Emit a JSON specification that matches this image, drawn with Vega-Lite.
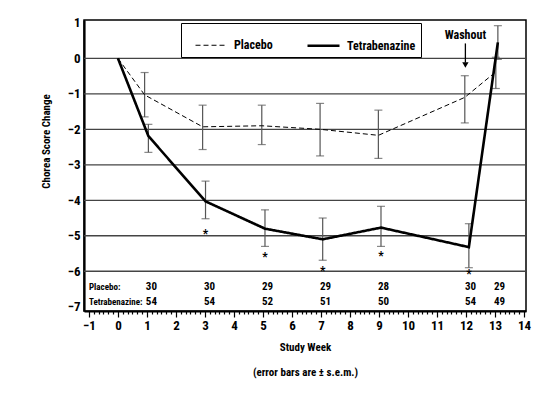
{
  "$schema": "https://vega.github.io/schema/vega-lite/v6.json",
  "width": 442,
  "height": 291,
  "autosize": {"type": "none"},
  "padding": {"left": 84, "top": 20, "right": 18, "bottom": 82},
  "background": "white",
  "config": {
    "font": "Roboto Condensed, Arial Narrow, Liberation Sans Narrow, Roboto, sans-serif",
    "view": {"stroke": "black", "strokeWidth": 1.5},
    "axis": {"labelFontWeight": "bold", "titleFontWeight": "bold", "labelColor": "black", "titleColor": "black", "domainColor": "black", "tickColor": "black"}
  },
  "datasets": {
    "grid": [{"value": 0}, {"value": -1}, {"value": -2}, {"value": -3}, {"value": -4}, {"value": -5}, {"value": -6}],
    "series": [
      {"group": "Placebo", "week": 0, "value": 0, "lo": null, "hi": null},
      {"group": "Placebo", "week": 0.92, "value": -1.03, "lo": -1.65, "hi": -0.40},
      {"group": "Placebo", "week": 2.92, "value": -1.93, "lo": -2.57, "hi": -1.32},
      {"group": "Placebo", "week": 4.96, "value": -1.90, "lo": -2.43, "hi": -1.32},
      {"group": "Placebo", "week": 6.97, "value": -2.00, "lo": -2.75, "hi": -1.27},
      {"group": "Placebo", "week": 8.98, "value": -2.17, "lo": -2.82, "hi": -1.46},
      {"group": "Placebo", "week": 11.96, "value": -1.10, "lo": -1.82, "hi": -0.49},
      {"group": "Placebo", "week": 13.03, "value": -0.38, "lo": -0.85, "hi": 0.03},
      {"group": "Tetrabenazine", "week": 0, "value": 0, "lo": null, "hi": null},
      {"group": "Tetrabenazine", "week": 1.05, "value": -2.19, "lo": -2.65, "hi": -1.86},
      {"group": "Tetrabenazine", "week": 3.02, "value": -4.03, "lo": -4.52, "hi": -3.46},
      {"group": "Tetrabenazine", "week": 5.07, "value": -4.80, "lo": -5.30, "hi": -4.27},
      {"group": "Tetrabenazine", "week": 7.06, "value": -5.10, "lo": -5.69, "hi": -4.50},
      {"group": "Tetrabenazine", "week": 9.07, "value": -4.77, "lo": -5.30, "hi": -4.17},
      {"group": "Tetrabenazine", "week": 12.1, "value": -5.32, "lo": -5.90, "hi": -4.66},
      {"group": "Tetrabenazine", "week": 13.1, "value": 0.45, "lo": -0.03, "hi": 0.92}
    ],
    "stars": [
      {"week": 3.02, "value": -4.88},
      {"week": 5.07, "value": -5.53},
      {"week": 7.06, "value": -5.95},
      {"week": 9.07, "value": -5.50},
      {"week": 12.1, "value": -6.02}
    ],
    "counts": [
      {"week": 1, "row": "Placebo", "value": -6.45, "n": "30"},
      {"week": 3, "row": "Placebo", "value": -6.45, "n": "30"},
      {"week": 5, "row": "Placebo", "value": -6.45, "n": "29"},
      {"week": 7, "row": "Placebo", "value": -6.45, "n": "29"},
      {"week": 9, "row": "Placebo", "value": -6.45, "n": "28"},
      {"week": 12, "row": "Placebo", "value": -6.45, "n": "30"},
      {"week": 13, "row": "Placebo", "value": -6.45, "n": "29"},
      {"week": 1, "row": "Tetrabenazine", "value": -6.86, "n": "54"},
      {"week": 3, "row": "Tetrabenazine", "value": -6.86, "n": "54"},
      {"week": 5, "row": "Tetrabenazine", "value": -6.86, "n": "52"},
      {"week": 7, "row": "Tetrabenazine", "value": -6.86, "n": "51"},
      {"week": 9, "row": "Tetrabenazine", "value": -6.86, "n": "50"},
      {"week": 12, "row": "Tetrabenazine", "value": -6.86, "n": "54"},
      {"week": 13, "row": "Tetrabenazine", "value": -6.86, "n": "49"}
    ],
    "rowlabels": [
      {"week": -1.0, "value": -6.45, "label": "Placebo:"},
      {"week": -1.0, "value": -6.86, "label": "Tetrabenazine:"}
    ],
    "washout": [{"week": 11.98, "value": 0.66, "top": 0.42, "bottom": -0.12, "head": -0.19, "label": "Washout"}]
  },
  "layer": [
    {
      "data": {"name": "grid"},
      "mark": {"type": "rule", "color": "#444444", "strokeWidth": 1.3},
      "encoding": {
        "y": {
          "field": "value", "type": "quantitative",
          "scale": {"domain": [-7.12, 1.08], "nice": false, "zero": false},
          "axis": {
            "values": [-7, -6, -5, -4, -3, -2, -1, 0, 1], "tickCount": 50, "format": "d",
            "grid": false, "ticks": false, "domainWidth": 2.2,
            "labelFontSize": 13, "labelPadding": 4,
            "title": "Chorea Score Change", "titleFontSize": 11,
            "titleX": -38, "titleY": 121, "titleAlign": "center", "titleBaseline": "middle", "titleAngle": -90
          }
        }
      }
    },
    {
      "data": {"name": "series"},
      "transform": [{"filter": "isValid(datum.lo)"}],
      "mark": {"type": "rule", "color": "#555555", "strokeWidth": 1.2},
      "encoding": {
        "x": {
          "field": "week", "type": "quantitative",
          "scale": {"domain": [-1.17, 14.07], "nice": false, "zero": false},
          "axis": {
            "values": [-1, -0.8333, -0.6667, -0.5, -0.3333, -0.1667, 0, 0.1667, 0.3333, 0.5, 0.6667, 0.8333, 1, 1.1667, 1.3333, 1.5, 1.6667, 1.8333, 2, 2.1667, 2.3333, 2.5, 2.6667, 2.8333, 3, 3.1667, 3.3333, 3.5, 3.6667, 3.8333, 4, 4.1667, 4.3333, 4.5, 4.6667, 4.8333, 5, 5.1667, 5.3333, 5.5, 5.6667, 5.8333, 6, 6.1667, 6.3333, 6.5, 6.6667, 6.8333, 7, 7.1667, 7.3333, 7.5, 7.6667, 7.8333, 8, 8.1667, 8.3333, 8.5, 8.6667, 8.8333, 9, 9.1667, 9.3333, 9.5, 9.6667, 9.8333, 10, 10.1667, 10.3333, 10.5, 10.6667, 10.8333, 11, 11.1667, 11.3333, 11.5, 11.6667, 11.8333, 12, 12.1667, 12.3333, 12.5, 12.6667, 12.8333, 13, 13.1667, 13.3333, 13.5, 13.6667, 13.8333, 14],
            "tickCount": 500,
            "labelExpr": "abs(datum.value - round(datum.value)) < 0.01 ? format(datum.value, 'd') : ''",
            "labelOverlap": false, "labelBound": false, "labelFlush": false,
            "tickSize": {"condition": {"test": "abs(datum.value - round(datum.value)) < 0.01", "value": 6}, "value": 3},
            "tickWidth": 1.2, "domainWidth": 2.2, "grid": false,
            "labelFontSize": 13, "labelPadding": 2,
            "title": ["Study Week", "(error bars are ± s.e.m.)"],
            "titleFontSize": 11, "titleLineHeight": 25, "titleY": 30, "titleBaseline": "top"
          }
        },
        "y": {"field": "lo", "type": "quantitative"},
        "y2": {"field": "hi"}
      }
    },
    {
      "data": {"name": "series"},
      "transform": [{"filter": "isValid(datum.lo)"}],
      "mark": {"type": "tick", "orient": "horizontal", "color": "#555555", "size": 8, "thickness": 1.2},
      "encoding": {
        "x": {"field": "week", "type": "quantitative"},
        "y": {"field": "lo", "type": "quantitative"}
      }
    },
    {
      "data": {"name": "series"},
      "transform": [{"filter": "isValid(datum.hi)"}],
      "mark": {"type": "tick", "orient": "horizontal", "color": "#555555", "size": 8, "thickness": 1.2},
      "encoding": {
        "x": {"field": "week", "type": "quantitative"},
        "y": {"field": "hi", "type": "quantitative"}
      }
    },
    {
      "data": {"name": "series"},
      "mark": {"type": "line", "color": "black"},
      "encoding": {
        "x": {"field": "week", "type": "quantitative"},
        "y": {"field": "value", "type": "quantitative"},
        "order": {"field": "week"},
        "strokeDash": {
          "field": "group", "type": "nominal",
          "scale": {"domain": ["Placebo", "Tetrabenazine"], "range": [[5, 3], [1, 0]]},
          "legend": {
            "title": null, "orient": "none", "legendX": 97, "legendY": 3, "direction": "horizontal",
            "strokeColor": "black", "padding": 5, "symbolType": "stroke", "symbolSize": 1024,
            "symbolStrokeColor": "black", "symbolOffset": 9, "labelFontSize": 12, "labelFontWeight": "bold",
            "labelColor": "black", "labelOffset": 6, "columnPadding": 24
          }
        },
        "strokeWidth": {
          "field": "group", "type": "nominal",
          "scale": {"domain": ["Placebo", "Tetrabenazine"], "range": [1, 2.6]}
        }
      }
    },
    {
      "data": {"name": "stars"},
      "mark": {"type": "text", "text": "*", "fontSize": 12, "fontWeight": "bold", "baseline": "middle", "dy": 2, "color": "black"},
      "encoding": {
        "x": {"field": "week", "type": "quantitative"},
        "y": {"field": "value", "type": "quantitative"}
      }
    },
    {
      "data": {"name": "counts"},
      "mark": {"type": "text", "fontSize": 11, "fontWeight": "bold", "baseline": "middle", "align": "center", "dx": 4.5, "color": "black"},
      "encoding": {
        "x": {"field": "week", "type": "quantitative"},
        "y": {"field": "value", "type": "quantitative"},
        "text": {"field": "n"}
      }
    },
    {
      "data": {"name": "rowlabels"},
      "mark": {"type": "text", "fontSize": 9, "fontWeight": "bold", "baseline": "middle", "align": "left", "color": "black"},
      "encoding": {
        "x": {"field": "week", "type": "quantitative"},
        "y": {"field": "value", "type": "quantitative"},
        "text": {"field": "label"}
      }
    },
    {
      "data": {"name": "washout"},
      "mark": {"type": "text", "fontSize": 12, "fontWeight": "bold", "baseline": "middle", "align": "center", "color": "black"},
      "encoding": {
        "x": {"field": "week", "type": "quantitative"},
        "y": {"field": "value", "type": "quantitative"},
        "text": {"field": "label"}
      }
    },
    {
      "data": {"name": "washout"},
      "mark": {"type": "rule", "color": "black", "strokeWidth": 1.3},
      "encoding": {
        "x": {"field": "week", "type": "quantitative"},
        "y": {"field": "top", "type": "quantitative"},
        "y2": {"field": "bottom"}
      }
    },
    {
      "data": {"name": "washout"},
      "mark": {"type": "point", "shape": "triangle-down", "filled": true, "color": "black", "size": 40, "opacity": 1},
      "encoding": {
        "x": {"field": "week", "type": "quantitative"},
        "y": {"field": "head", "type": "quantitative"}
      }
    }
  ]
}
